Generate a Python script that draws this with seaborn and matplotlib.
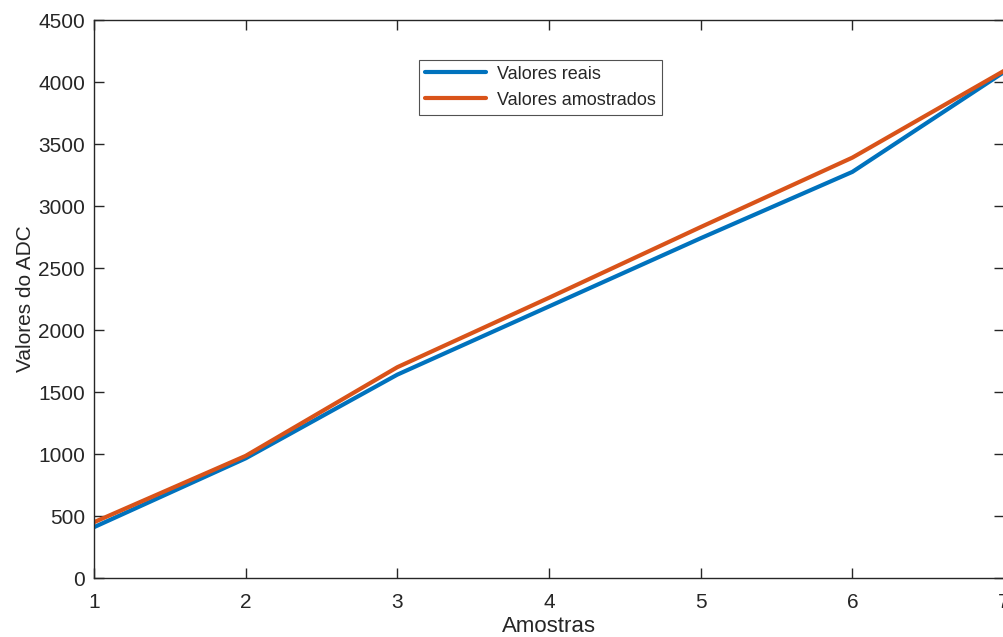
import matplotlib
matplotlib.use("Agg")
import matplotlib.pyplot as plt
import seaborn as sns
import pandas as pd

amostras = [1, 2, 3, 4, 5, 6, 7]
valores_reais = [410, 965, 1640, 2190, 2740, 3275, 4080]
valores_amostrados = [450, 985, 1700, 2260, 2830, 3390, 4090]
series_names = ["Valores reais", "Valores amostrados"]
y_ticks = [0, 500, 1000, 1500, 2000, 2500, 3000, 3500, 4000, 4500]

df = pd.DataFrame({
    "Amostras": amostras * 2,
    "Valor": valores_reais + valores_amostrados,
    "Serie": [series_names[0]] * len(amostras) + [series_names[1]] * len(amostras),
})

sns.set_style("white")
plt.rcParams["font.family"] = ["Liberation Sans", "DejaVu Sans"]

fig = plt.figure(figsize=(10.04, 6.37), dpi=100)
ax = fig.add_axes([94 / 1004, 59 / 637, 910 / 1004, 558 / 637])

sns.lineplot(data=df, x="Amostras", y="Valor", hue="Serie",
             palette=["#0072BD", "#D95319"], linewidth=3.0, ax=ax)

ax.set_xlim(1, 7)
ax.set_ylim(0, 4500)
ax.set_xticks(amostras)
ax.set_yticks(y_ticks)
ax.tick_params(direction="in", length=7, width=1, colors="#262626",
               labelsize=15, top=True, right=True, bottom=True, left=True)
ax.tick_params(axis="x", pad=10.5)
ax.tick_params(axis="y", pad=6.5)
for s in ax.spines.values():
    s.set_visible(True)
    s.set_color("#262626")
    s.set_linewidth(1)
ax.set_xlabel("Amostras", fontsize=16, color="#262626", labelpad=3)
ax.set_ylabel("Valores do ADC", fontsize=15, color="#262626", labelpad=2.5)

leg = ax.legend(loc="upper left", bbox_to_anchor=(325 / 910, 1 - 40 / 558),
                fontsize=13, frameon=True, fancybox=False, edgecolor="#262626",
                handlelength=3.4, borderpad=0.32, labelspacing=0.5,
                handletextpad=0.6, borderaxespad=0)
leg.get_frame().set_linewidth(0.8)
for line in leg.get_lines():
    line.set_linewidth(3.0)

fig.savefig("out.png", dpi=100)
